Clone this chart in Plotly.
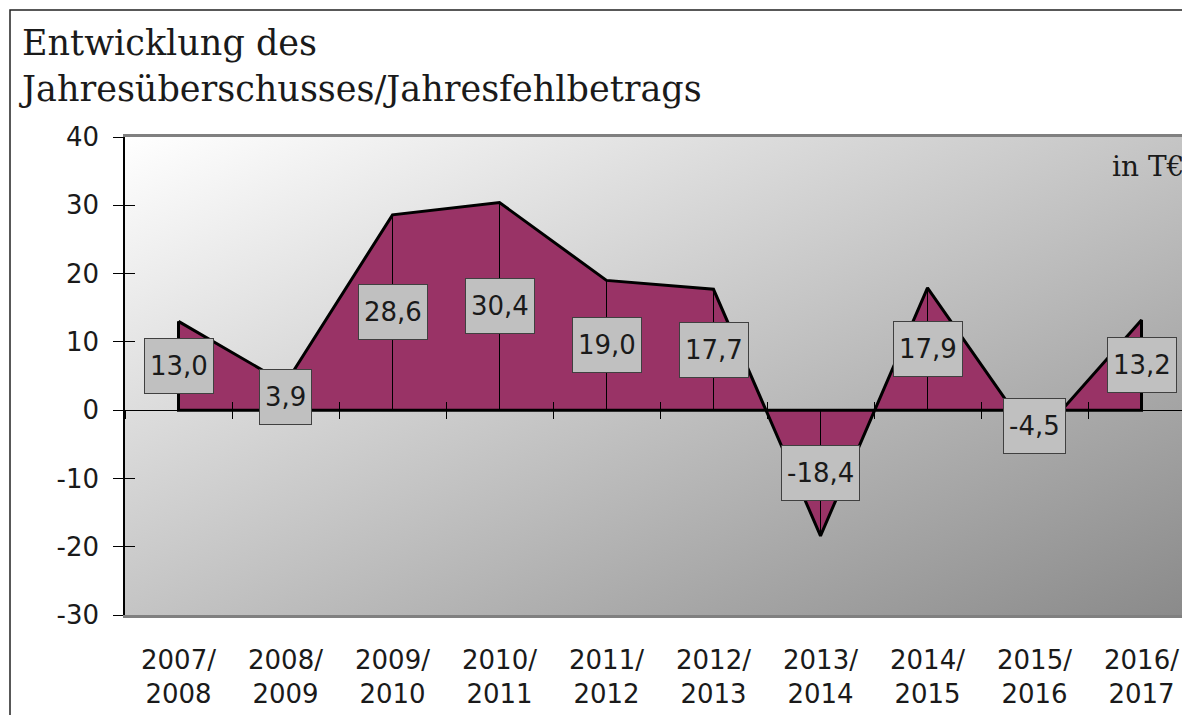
import base64

import plotly.graph_objects as go

# Daten (in T€)
jahre = ["2007/<br>2008", "2008/<br>2009", "2009/<br>2010", "2010/<br>2011", "2011/<br>2012",
         "2012/<br>2013", "2013/<br>2014", "2014/<br>2015", "2015/<br>2016", "2016/<br>2017"]
werte = [13.0, 3.9, 28.6, 30.4, 19.0, 17.7, -18.4, 17.9, -4.5, 13.2]
y_ticks = [-30, -20, -10, 0, 10, 20, 30, 40]
y_ticktext = ["-30", "-20", "-10", "0", "10", "20", "30", "40"]

# Seite hat 8px Rand -> Figur entsprechend kleiner
W, H, OFF = 1190, 715, 8
PL, PT, PR, PB = 125, 137, 1190, 615   # Plotbereich in Fensterpixeln
PW, PH = PR - PL, PB - PT
FW, FH = W - OFF, H - OFF
ML, MT = PL - OFF, PT - OFF
MR, MB = FW - ML - PW, FH - MT - PH
STEP = 107  # px pro Kategorie
Y_RANGE = [-30, 40]
X_RANGE = [-0.5, -0.5 + PW / STEP]

SANS = "DejaVu Sans"
SERIF = "DejaVu Serif"
TICK_FONT = dict(family=SANS, size=26, color="#1a1a1a")


def px_x(p):
    return (p - PL) / PW


def px_y(p):
    return (PB - p) / PH


pos = list(range(len(werte)))

# Hintergrund mit diagonalem Verlauf
svg = (
    '<svg xmlns="http://www.w3.org/2000/svg" width="400" height="200" preserveAspectRatio="none">'
    '<defs><linearGradient id="g" x1="0" y1="0" x2="1" y2="1">'
    '<stop offset="0" stop-color="#ffffff"/><stop offset="1" stop-color="#8a8a8a"/>'
    '</linearGradient></defs><rect width="400" height="200" fill="url(#g)"/></svg>'
)
bg_src = "data:image/svg+xml;base64," + base64.b64encode(svg.encode()).decode()

fig = go.Figure()

# Flaeche mit schwarzer Umrandung (bis zur Nulllinie geschlossen)
fig.add_trace(go.Scatter(
    x=pos + [pos[-1], pos[0], pos[0]],
    y=werte + [0, 0, werte[0]],
    mode="lines",
    fill="toself",
    fillcolor="#993366",
    line=dict(color="black", width=3),
    hoverinfo="skip",
    showlegend=False,
))

# senkrechte Linien von 0 bis zum Wert
drop_x, drop_y = [], []
for i, v in zip(pos, werte):
    drop_x += [i, i, None]
    drop_y += [0, v, None]
fig.add_trace(go.Scatter(x=drop_x, y=drop_y, mode="lines",
                         line=dict(color="black", width=1),
                         hoverinfo="skip", showlegend=False))

# leere Traces, damit die Hilfsachsen gezeichnet werden
fig.add_trace(go.Scatter(x=[None], y=[None], xaxis="x2", yaxis="y", showlegend=False))
fig.add_trace(go.Scatter(x=[None], y=[None], xaxis="x3", yaxis="y", showlegend=False))
fig.add_trace(go.Scatter(x=[None], y=[None], xaxis="x", yaxis="y2", showlegend=False))

# Datenbeschriftungen (mittig in der Flaeche)
for i, v in zip(pos, werte):
    fig.add_annotation(
        x=i, y=v / 2, xref="x", yref="y",
        text=f"{v:.1f}".replace(".", ","),
        showarrow=False,
        font=dict(family=SANS, size=26, color="#1a1a1a"),
        bgcolor="#c0c0c0", bordercolor="#404040", borderwidth=1,
        borderpad=5, height=44,
    )

# Titel
fig.add_annotation(
    x=px_x(17), y=px_y(21), xref="paper", yref="paper",
    xanchor="left", yanchor="top", align="left",
    text="Entwicklung des<br>Jahresüberschusses/Jahresfehlbetrags",
    showarrow=False,
    font=dict(family=SERIF, size=35, color="#1a1a1a"),
)

fig.add_annotation(
    x=px_x(1110), y=px_y(166), xref="paper", yref="paper",
    xanchor="left", yanchor="middle", text="in T€", showarrow=False,
    font=dict(family=SERIF, size=28, color="#1a1a1a"),
)

# aeusserer Rahmen
fig.add_shape(type="rect", xref="paper", yref="paper",
              x0=px_x(10), x1=1.3, y0=-0.5, y1=px_y(10),
              line=dict(color="#222222", width=1.5), layer="below")

zero_pos = (0 - Y_RANGE[0]) / (Y_RANGE[1] - Y_RANGE[0])
grenzen = [p - 0.5 for p in pos] + [pos[-1] + 0.5]

fig.update_layout(
    width=FW, height=FH,
    margin=dict(l=ML, r=MR, t=MT, b=MB, pad=0),
    paper_bgcolor="white",
    plot_bgcolor="rgba(0,0,0,0)",
    images=[dict(source=bg_src, xref="paper", yref="paper", x=0, y=1,
                 sizex=1, sizey=1, sizing="stretch", layer="below")],
    xaxis=dict(
        range=X_RANGE, tickmode="array", tickvals=pos, ticktext=jahre,
        ticks="", tickfont=TICK_FONT, ticklabelstandoff=20,
        showgrid=False, zeroline=False,
        showline=True, linecolor="#808080", linewidth=3, mirror=True,
    ),
    xaxis2=dict(
        range=X_RANGE, overlaying="x", anchor="free", position=zero_pos,
        tickmode="array", tickvals=grenzen, ticks="outside", ticklen=8,
        tickcolor="black", tickwidth=1, showticklabels=False,
        showgrid=False, zeroline=False, showline=False,
    ),
    xaxis3=dict(
        range=X_RANGE, overlaying="x", anchor="free", position=zero_pos,
        tickmode="array", tickvals=grenzen, ticks="inside", ticklen=8,
        tickcolor="black", tickwidth=1, showticklabels=False,
        showgrid=False, zeroline=False, showline=False,
    ),
    yaxis=dict(
        range=Y_RANGE, tickmode="array", tickvals=y_ticks, ticktext=y_ticktext,
        ticks="outside", ticklen=10, tickcolor="black", tickwidth=1,
        tickfont=TICK_FONT, ticklabelstandoff=9,
        showgrid=False, showline=True, linecolor="black", linewidth=1.5,
        zeroline=True, zerolinecolor="black", zerolinewidth=1.2,
    ),
    yaxis2=dict(
        range=Y_RANGE, overlaying="y", anchor="x", side="left",
        tickmode="array", tickvals=y_ticks, ticks="inside", ticklen=10,
        tickcolor="black", tickwidth=1, showticklabels=False,
        showgrid=False, zeroline=False, showline=False,
    ),
    showlegend=False,
)

fig.write_html("out.html")
